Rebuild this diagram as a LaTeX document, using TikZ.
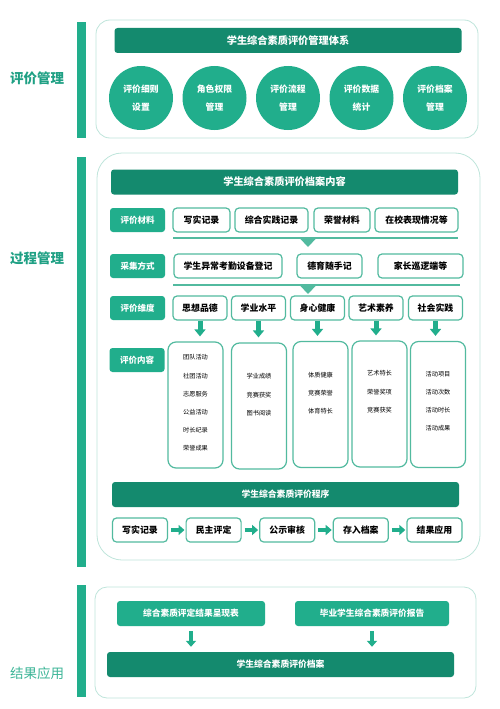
\documentclass[tikz,border=0pt]{standalone}
\usepackage{fontspec}
\setmainfont{Noto Sans CJK SC}
\usetikzlibrary{arrows.meta,positioning}
\definecolor{darkteal}{HTML}{148A6E}
\definecolor{midteal}{HTML}{21AE8C}
\definecolor{lineteal}{HTML}{52BA9F}
\definecolor{paleteal}{HTML}{BFE5DB}
\definecolor{labelteal}{HTML}{1FA084}
\definecolor{softteal}{HTML}{3DB597}

\begin{document}
\begin{tikzpicture}[
     x = 1pt, y = -1pt,
     header/.style = {fill = darkteal, rounded corners = 3pt, text = white,
       font = \bfseries\fontsize{8.8}{10}\selectfont,
       minimum width = 347pt, minimum height = 25pt, inner sep = 0pt},
     circ/.style = {circle, fill = midteal, text = white, align = center,
       font = \bfseries\fontsize{8.8}{18}\selectfont,
       minimum size = 64pt, inner sep = 0pt},
     tag/.style = {fill = midteal, rounded corners = 3pt, text = white,
       font = \bfseries\fontsize{8.5}{10}\selectfont,
       minimum width = 55pt, minimum height = 24pt, inner sep = 0pt},
     item/.style = {draw = lineteal, line width = 1.2pt, fill = white,
       rounded corners = 4pt, font = \bfseries\fontsize{8.9}{10}\selectfont,
       minimum height = 24pt, inner sep = 0pt},
     contbox/.style = {draw = lineteal, line width = 1.2pt, rounded corners = 8pt,
       minimum width = 55pt, minimum height = 126pt, inner sep = 0pt},
     conttext/.style = {anchor = north, align = center, inner sep = 0pt,
       font = \fontsize{6.2}{18.2}\selectfont},
     result/.style = {fill = midteal, rounded corners = 3pt, text = white,
       font = \bfseries\fontsize{8.7}{10}\selectfont,
       minimum height = 25pt, inner sep = 0pt},
     outer/.style = {draw = paleteal, line width = 0.8pt, fill = white},
     bar/.style = {fill = midteal},
     side/.style = {text = labelteal, font = \bfseries\fontsize{13.5}{15}\selectfont},
     bigarrow/.style = {draw = midteal, line width = 5pt,
       -{Triangle[width = 11pt, length = 7pt]}},
     smallarrow/.style = {draw = midteal, line width = 4.5pt,
       -{Triangle[width = 10pt, length = 6pt]}},
     sep/.style = {draw = lineteal, line width = 1.1pt}
    ]
    \useasboundingbox (0,0) rectangle (500,709);

    % ---- 评价管理
    \fill[bar] (77,22) rectangle (86,138);
    \draw[outer, rounded corners = 14pt] (96,20) rectangle (478,138);
    \node[side] (mgmt) at (37,78) {评价管理};
    \node[header, font = \bfseries\fontsize{10.2}{11}\selectfont] (sys) at (288,40.5) {学生综合素质评价管理体系};
    \node[circ] (c1) at (141,98) {评价细则\\设置};
    \node[circ, right of = c1, node distance = 73.5pt] (c2) {角色权限\\管理};
    \node[circ, right of = c2, node distance = 73.5pt] (c3) {评价流程\\管理};
    \node[circ, right of = c3, node distance = 73.5pt] (c4) {评价数据\\统计};
    \node[circ, right of = c4, node distance = 73.5pt] (c5) {评价档案\\管理};

    % ---- 过程管理
    \fill[bar] (77,157) rectangle (86,567);
    \draw[outer, rounded corners = 25pt] (97,153) rectangle (480,560);
    \node[side] (proc) at (37,258) {过程管理};
    \node[header, font = \bfseries\fontsize{10.2}{11}\selectfont] (content) at (284.5,182) {学生综合素质评价档案内容};

    \node[tag] (material) at (137.5,220) {评价材料};
    \node[item, minimum width = 57pt] (m1) at (201.5,220) {写实记录};
    \node[item, minimum width = 73pt] (m2) at (271.5,220) {综合实践记录};
    \node[item, minimum width = 56pt] (m3) at (342,220) {荣誉材料};
    \node[item, minimum width = 83pt] (m4) at (416.5,220) {在校表现情况等};

    \coordinate (l1a) at (173,238);
    \coordinate (l1b) at (458,238);
    \draw[sep] (l1a) -- (l1b);
    \fill[lineteal] (299.5,238) -- (316.5,238) -- (308,247) -- cycle;

    \node[tag] (collect) at (137.5,266) {采集方式};
    \node[item, minimum width = 108pt] (g1) at (228,266) {学生异常考勤设备登记};
    \node[item, minimum width = 65pt] (g2) at (329.5,266) {德育随手记};
    \node[item, minimum width = 85pt] (g3) at (420.5,266) {家长巡逻端等};

    \coordinate (l2a) at (173,285);
    \coordinate (l2b) at (460,285);
    \draw[sep] (l2a) -- (l2b);
    \fill[lineteal] (299.5,285) -- (316.5,285) -- (308,294) -- cycle;

    \node[tag] (dim) at (137.5,308) {评价维度};
    \node[item, minimum width = 54pt] (d1) at (200,308) {思想品德};
    \node[item, minimum width = 54pt] (d2) at (258.5,308) {学业水平};
    \node[item, minimum width = 54pt] (d3) at (317.5,308) {身心健康};
    \node[item, minimum width = 54pt] (d4) at (376,308) {艺术素养};
    \node[item, minimum width = 54pt] (d5) at (435.5,308) {社会实践};

    \node[tag] (items) at (137,360) {评价内容};
    \node[contbox] (k1) at (195.5,405) {};
    \node[contbox] (k2) at (259,406) {};
    \node[contbox] (k3) at (320.5,404.5) {};
    \node[contbox] (k4) at (379.5,404) {};
    \node[contbox] (k5) at (438,404.5) {};

    \node[conttext, below = 13pt of k1.north] (t1)
      {团队活动\\社团活动\\志愿服务\\公益活动\\时长纪录\\荣誉成果};
    \node[conttext, below = 31pt of k2.north] (t2) {学业成绩\\竞赛获奖\\图书阅读};
    \node[conttext, below = 31pt of k3.north] (t3) {体质健康\\竞赛荣誉\\体育特长};
    \node[conttext, below = 30pt of k4.north] (t4) {艺术特长\\荣誉奖项\\竞赛获奖};
    \node[conttext, below = 30pt of k5.north] (t5) {活动项目\\活动次数\\活动时长\\活动成果};

    \foreach \i in {1,...,5}
      \draw[bigarrow, shorten >= 5pt] (d\i.south) -- (d\i.south |- k\i.north);

    \node[header] (steps) at (285.5,494.5) {学生综合素质评价程序};
    \node[item, minimum width = 55pt] (p1) at (140,530) {写实记录};
    \node[item, minimum width = 55pt, right of = p1, node distance = 73.6pt] (p2) {民主评定};
    \node[item, minimum width = 55pt, right of = p2, node distance = 73.6pt] (p3) {公示审核};
    \node[item, minimum width = 55pt, right of = p3, node distance = 73.6pt] (p4) {存入档案};
    \node[item, minimum width = 55pt, right of = p4, node distance = 73.6pt] (p5) {结果应用};

    \draw[smallarrow, shorten <= 3pt, shorten >= 1pt] (p1) -- (p2);
    \draw[smallarrow, shorten <= 3pt, shorten >= 1pt] (p2) -- (p3);
    \draw[smallarrow, shorten <= 3pt, shorten >= 1pt] (p3) -- (p4);
    \draw[smallarrow, shorten <= 3pt, shorten >= 1pt] (p4) -- (p5);

    % ---- 结果应用
    \fill[bar] (77,585) rectangle (86,697);
    \draw[outer, rounded corners = 12pt] (95,587) rectangle (476,698);
    \node[side, text = softteal, font = \fontsize{13.5}{15}\selectfont] (use) at (37,673) {结果应用};
    \node[result, minimum width = 148pt] (r1) at (191,613.5) {综合素质评定结果呈现表};
    \node[result, minimum width = 154pt] (r2) at (372,613.5) {毕业学生综合素质评价报告};
    \node[header] (archive) at (280.5,664.5) {学生综合素质评价档案};

    \draw[smallarrow, shorten <= 5pt, shorten >= 5pt] (r1.south) -- (r1.south |- archive.north);
    \draw[smallarrow, shorten <= 5pt, shorten >= 5pt] (r2.south) -- (r2.south |- archive.north);

   \end{tikzpicture}
\end{document}
